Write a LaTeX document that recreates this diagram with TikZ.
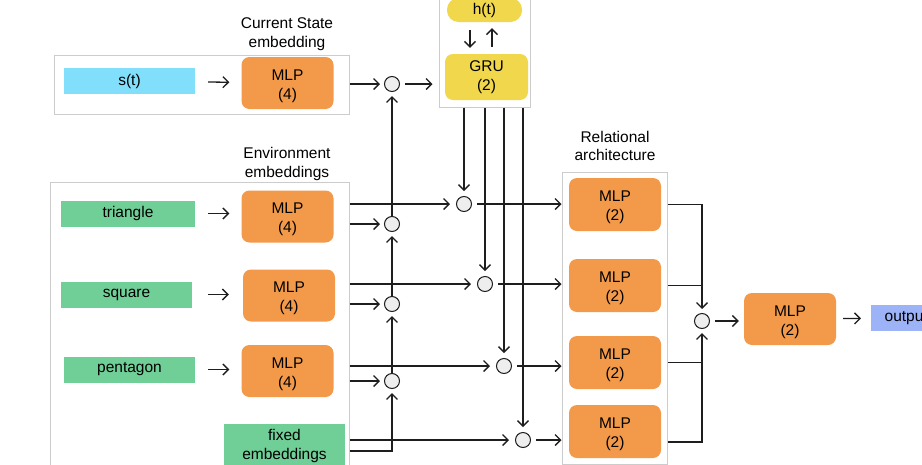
\documentclass[tikz,border=0pt]{standalone}
\usepackage{fontspec}
\setmainfont{Liberation Sans}
\usetikzlibrary{arrows.meta}
\definecolor{mlporange}{HTML}{F2994A}
\definecolor{gruyellow}{HTML}{F1D74C}
\definecolor{envgreen}{HTML}{6FCF97}
\definecolor{statecyan}{HTML}{82DFFB}
\definecolor{outblue}{HTML}{9DB3F8}
\definecolor{framegray}{HTML}{CCCCCC}
\definecolor{opgray}{HTML}{EEEEEE}
\definecolor{linecol}{HTML}{1E1E1E}
\newcommand{\twoline}[1]{\raisebox{-6.4pt}[0pt][0pt]{\begin{tabular}{@{}c@{}}#1\end{tabular}}}
\begin{document}
\begin{tikzpicture}[x=1pt,y=-1pt,
  font=\fontsize{15.5}{18.5}\selectfont,
  framebox/.style={draw=framegray, line width=1pt, inner sep=0pt, fill=white},
  mlpbox/.style={fill=mlporange, rounded corners=8pt, inner sep=0pt, align=center,
                 minimum width=92pt, minimum height=52pt, font=\fontsize{15.5}{19}\selectfont},
  inbox/.style={inner sep=0pt, minimum height=26pt, align=center},
  opnode/.style={circle, draw=linecol, fill=opgray, line width=1pt, minimum size=15pt, inner sep=0pt},
  conn/.style={draw=linecol, line width=1.3pt},
  arr/.style={conn, -{Straight Barb[length=5.5pt,width=11pt,line width=1.3pt]}},
  lbl/.style={align=center, inner sep=0pt}
]
\useasboundingbox (0,0) rectangle (922,464);

% frames
\node[framebox, minimum width=295pt, minimum height=59pt] (topframe) at (201.5,84.5) {};
\node[framebox, minimum width=299pt, minimum height=290pt] (envframe) at (199.5,327) {};
\node[framebox, minimum width=91pt, minimum height=112pt] (gruframe) at (484.5,51) {};
\node[framebox, minimum width=105pt, minimum height=292pt] (relframe) at (614.5,318) {};

% labels
\node[lbl] (lblstate) at (287,34) {Current State\\embedding};
\node[lbl] (lblenv) at (287,164) {Environment\\embeddings};
\node[lbl] (lblrel) at (615,146) {Relational\\architecture};

% state row
\node[inbox, fill=statecyan, minimum width=131pt] (st) at (129.5,81) {s(t)};
\node[mlpbox] (mlpS) at (287.5,83) {\twoline{MLP\\(4)}};

% env rows
\node[inbox, fill=envgreen, minimum width=134pt] (tri) at (128,213.5) {triangle};
\node[mlpbox] (mlpT) at (287.5,216.5) {\twoline{MLP\\(4)}};
\node[inbox, fill=envgreen, minimum width=131pt] (sq) at (126.5,294.5) {square};
\node[mlpbox] (mlpQ) at (289,295.5) {\twoline{MLP\\(4)}};
\node[inbox, fill=envgreen, minimum width=131pt] (pent) at (129.5,369.5) {pentagon};
\node[mlpbox] (mlpP) at (287.5,371) {\twoline{MLP\\(4)}};
\node[inbox, fill=envgreen, minimum width=121pt, minimum height=44pt, anchor=north] (fixed) at (284.5,424) {fixed\\embeddings};

% GRU
\node[fill=gruyellow, rounded corners=11.5pt, minimum width=75pt, minimum height=24pt, inner sep=0pt] (ht) at (484.5,10) {h(t)};
\node[fill=gruyellow, rounded corners=8pt, minimum width=83pt, minimum height=46pt, inner sep=0pt, align=center,
      font=\fontsize{15.5}{19}\selectfont] (gru) at (486.5,77) {GRU\\(2)};

% operation circles
\node[opnode] (c0) at (392,84) {};
\node[opnode] (ca) at (392,224) {};
\node[opnode] (cb) at (392,304) {};
\node[opnode] (cc) at (392,381) {};
\node[opnode] (c1) at (464,204) {};
\node[opnode] (c2) at (485,284) {};
\node[opnode] (c3) at (504,366) {};
\node[opnode] (c4) at (523,440) {};
\node[opnode] (c5) at (702,321) {};

% relational MLPs
\node[mlpbox, minimum height=53pt] (rm1) at (615,204.5) {\twoline{MLP\\(2)}};
\node[mlpbox, minimum height=53pt] (rm2) at (615,285.5) {\twoline{MLP\\(2)}};
\node[mlpbox, minimum height=53pt] (rm3) at (615,362.5) {\twoline{MLP\\(2)}};
\node[mlpbox, minimum height=53pt] (rm4) at (615,431.5) {\twoline{MLP\\(2)}};

% final
\node[mlpbox] (mlpF) at (790,319) {\twoline{MLP\\(2)}};
\node[inbox, fill=outblue, minimum width=70pt, inner xsep=10pt, anchor=west, align=left] (out) at (871,318) {output};

% helper coordinates
\coordinate (xd) at (470,0);
\coordinate (xu) at (492,0);
\coordinate (fxb) at (0,451);

% input arrows
\draw[arr, shorten <=13pt, shorten >=12pt] (st) -- (mlpS);
\draw[arr, shorten <=13pt, shorten >=12pt] (tri.east) -- (tri.east -| mlpT.west);
\draw[arr, shorten <=16pt, shorten >=14pt] (sq.east) -- (sq.east -| mlpQ.west);
\draw[arr, shorten <=13pt, shorten >=12pt] (pent.east) -- (pent.east -| mlpP.west);

% state to GRU
\draw[arr, shorten >=4pt] (topframe.east |- c0) -- (c0);
\draw[arr, shorten <=4.5pt, shorten >=6pt] (c0) -- (c0 -| gruframe.west);
\draw[arr, shorten <=8pt, shorten >=6pt] (ht.south -| xd) -- (gru.north -| xd);
\draw[arr, shorten <=7pt, shorten >=6pt] (gru.north -| xu) -- (ht.south -| xu);

% env lines to circles
\draw[arr, shorten >=6pt] (envframe.east |- c1) -- (c1);
\draw[arr, shorten >=4pt] (envframe.east |- ca) -- (ca);
\draw[arr, shorten >=6pt] (envframe.east |- c2) -- (c2);
\draw[arr, shorten >=4pt] (envframe.east |- cb) -- (cb);
\draw[arr, shorten >=6pt] (envframe.east |- c3) -- (c3);
\draw[arr, shorten >=4pt] (envframe.east |- cc) -- (cc);
\draw[arr, shorten >=6pt] (envframe.east |- c4) -- (c4);
\draw[arr, shorten >=4pt] (envframe.east |- fxb) -| (cc);

% vertical chain
\draw[arr, shorten >=4pt] (cc) -- (cb);
\draw[arr, shorten >=4pt] (cb) -- (ca);
\draw[arr, shorten >=4pt] (ca) -- (c0);

% GRU down lines
\draw[arr, shorten >=5pt] (gruframe.south -| c1) -- (c1);
\draw[arr, shorten >=5pt] (gruframe.south -| c2) -- (c2);
\draw[arr, shorten >=5pt] (gruframe.south -| c3) -- (c3);
\draw[arr, shorten >=5pt] (gruframe.south -| c4) -- (c4);

% circles to relational
\draw[arr, shorten <=5pt] (c1) -- (c1 -| relframe.west);
\draw[arr, shorten <=5pt] (c2) -- (c2 -| relframe.west);
\draw[arr, shorten <=5pt] (c3) -- (c3 -| relframe.west);
\draw[arr, shorten <=5pt] (c4) -- (c4 -| relframe.west);

% relational to aggregation
\draw[arr, shorten >=4pt] (relframe.east |- rm1) -| (c5);
\draw[conn] (relframe.east |- rm2) -- (rm2 -| c5);
\draw[conn] (relframe.east |- rm3) -- (rm3 -| c5);
\draw[arr, shorten >=4pt] ([yshift=-2pt]relframe.east |- c4) -| (c5);

% final
\draw[arr, shorten <=5pt, shorten >=5pt] (c5) -- (c5 -| mlpF.west);
\draw[arr, shorten <=7pt, shorten >=10pt] (mlpF) -- (out);
\end{tikzpicture}
\end{document}
